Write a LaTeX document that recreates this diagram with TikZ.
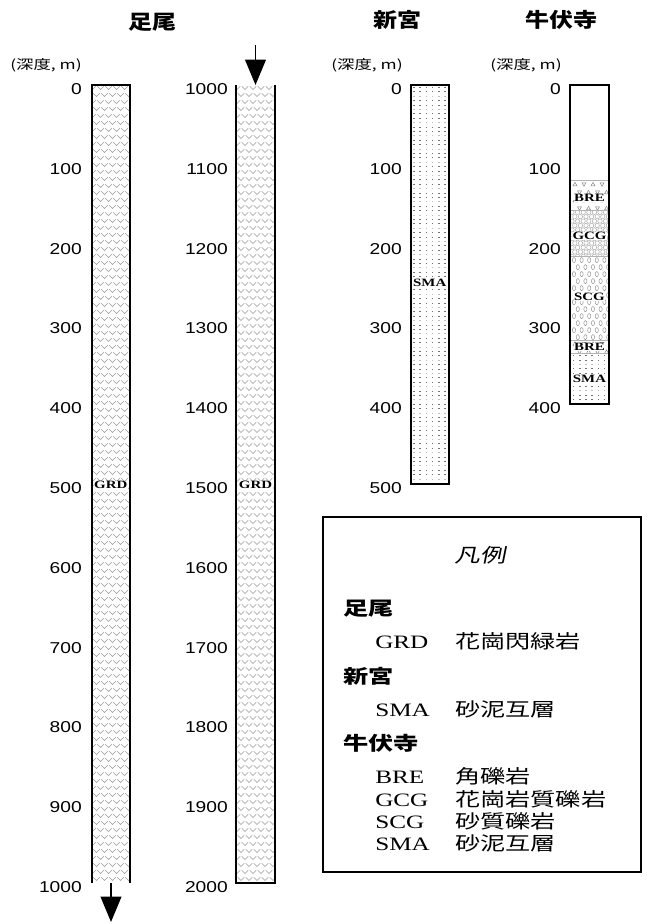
\documentclass[tikz,border=0pt]{standalone}
\usepackage{fontspec}
\usetikzlibrary{arrows.meta}
\newfontfamily\numfont{Liberation Sans}[FakeStretch=1.22]
\newfontfamily\jpfont{Noto Sans CJK JP}[FakeStretch=1.33]
\newfontfamily\jptitle{Noto Sans CJK JP}[FakeStretch=1.2]
\newfontfamily\jpslant{Noto Sans CJK JP}[FakeStretch=1.33,FakeSlant=0.2]
\newfontfamily\latinserif{Liberation Serif}[FakeStretch=1.33]

\tikzset{
  depthlbl/.style={font=\numfont\fontsize{11.8}{13}\selectfont,anchor=east,inner sep=0pt},
  sitetitle/.style={font=\jptitle\bfseries\fontsize{15}{17}\selectfont,inner sep=0pt},
  unitlbl/.style={font=\jpfont\fontsize{9.8}{11}\selectfont,inner sep=0pt},
  rocklbl/.style={font=\latinserif\bfseries\fontsize{8.4}{9}\selectfont,inner sep=0.5pt,fill=white},
  colline/.style={line width=1.5pt,line join=miter},
  bigarrow/.style={line width=1.3pt,-{Triangle[length=19pt,width=15.5pt]}},
  grdstroke/.style={draw=black!40,line width=0.4pt},
  brestroke/.style={draw=black!50,line width=0.35pt},
  gcgstroke/.style={draw=black!35,line width=0.35pt},
  scgstroke/.style={draw=black!45,line width=0.35pt},
  layerline/.style={draw=black!30,line width=0.5pt},
  legbox/.style={line width=1.5pt},
  legtitle/.style={font=\jpslant\fontsize{14.5}{16}\selectfont,inner sep=0pt},
  leghead/.style={font=\jpfont\bfseries\fontsize{14.2}{16}\selectfont,anchor=base west,inner sep=0pt},
  legcode/.style={font=\latinserif\fontsize{14.2}{16}\selectfont,anchor=base west,inner sep=0pt},
  legname/.style={font=\jpfont\fontsize{14.2}{16}\selectfont,anchor=base west,inner sep=0pt},
}

% granodiorite: rows of small v marks
\newcommand\grdfill[4]{%
  \begin{scope}
    \clip (#1,#3) rectangle (#2,#4);
    \pgfmathtruncatemacro\grdrows{(#4-#3)/7+1}
    \foreach \r in {0,...,\grdrows}{
      \pgfmathsetmacro\yy{#3+3+7*\r}
      \pgfmathsetmacro\xo{#1+1+4*mod(\r,2)}
      \foreach \c in {0,...,5}{
        \draw[grdstroke] ({\xo+8*\c-3.2},{\yy-1.6}) -- ({\xo+8*\c},{\yy+1.6}) -- ({\xo+8*\c+3.2},{\yy-1.6});
      }
    }
  \end{scope}}

% sandstone-mudstone alternation: rows of fine dots
\newcommand\smafill[4]{%
  \begin{scope}
    \clip (#1,#3) rectangle (#2,#4);
    \pgfmathtruncatemacro\smarows{(#4-#3)/4.4+1}
    \foreach \r in {0,...,\smarows}{
      \pgfmathsetmacro\yy{#3+2.5+4.4*\r}
      \pgfmathtruncatemacro\shade{mod(\r,3)==2 ? 25 : 55}
      \foreach \c in {0,...,6}{
        \fill[black!\shade] ({#1+3.5+6.2*\c-0.8},{\yy-0.5}) rectangle ++(1.6,1.0);
      }
    }
  \end{scope}}

% breccia: scattered small triangles
\newcommand\brefill[4]{%
  \begin{scope}
    \clip (#1,#3) rectangle (#2,#4);
    \pgfmathtruncatemacro\brerows{(#4-#3)/8+1}
    \foreach \r in {0,...,\brerows}{
      \pgfmathsetmacro\yy{#3+3.5+8*\r}
      \pgfmathsetmacro\xo{#1+5+4.5*mod(\r,2)}
      \foreach \c in {0,...,3}{
        \pgfmathsetmacro\s{mod(\r+\c,2)*2-1}
        \draw[brestroke] ({\xo+9*\c-2},{\yy-1.5*\s}) -- ({\xo+9*\c+2},{\yy-1.5*\s}) -- ({\xo+9*\c},{\yy+2*\s}) -- cycle;
      }
    }
  \end{scope}}

% granitic conglomerate: packed small circles
\newcommand\gcgfill[4]{%
  \begin{scope}
    \clip (#1,#3) rectangle (#2,#4);
    \pgfmathtruncatemacro\gcgrows{(#4-#3)/4.4+1}
    \foreach \r in {0,...,\gcgrows}{
      \pgfmathsetmacro\yy{#3+2+4.4*\r}
      \pgfmathsetmacro\xo{#1+2+2.8*mod(\r,2)}
      \foreach \c in {0,...,7}{
        \draw[gcgstroke] ({\xo+5.6*\c},\yy) circle[radius=2.2];
      }
    }
  \end{scope}}

% sandy conglomerate: small upright ovals
\newcommand\scgfill[4]{%
  \begin{scope}
    \clip (#1,#3) rectangle (#2,#4);
    \pgfmathtruncatemacro\scgrows{(#4-#3)/7+1}
    \foreach \r in {0,...,\scgrows}{
      \pgfmathsetmacro\yy{#3+3.5+7*\r}
      \pgfmathsetmacro\xo{#1+4+3.8*mod(\r,2)}
      \foreach \c in {0,...,4}{
        \draw[scgstroke] ({\xo+7.6*\c},\yy) ellipse[x radius=1.6,y radius=2.5];
      }
    }
  \end{scope}}

\begin{document}
\begin{tikzpicture}[x=0.75pt,y=-0.75pt]
  \useasboundingbox (0,0) rectangle (646,924);

  % ---------- site titles and depth headers ----------
  \node[sitetitle] (tAshio) at (152,22) {足尾};
  \node[sitetitle] (tNiimiya) at (397,20) {新宮};
  \node[sitetitle] (tUshi) at (561,20) {牛伏寺};
  \node[unitlbl] (uAshio) at (46,65) {(深度, m)};
  \node[unitlbl] (uNiimiya) at (367,65) {(深度, m)};
  \node[unitlbl] (uUshi) at (526,65) {(深度, m)};

  % ---------- Ashio, 0-1000 m ----------
  \grdfill{91.5}{130}{85}{883}
  \draw[colline] (91.5,883) -- (91.5,85) -- (130,85) -- (130,883);
  \node[rocklbl] (grdA) at (110.75,485) {GRD};
  \foreach \d in {0,100,...,1000}
    \node[depthlbl] (dA\d) at (82,{89+0.798*\d}) {\d};
  \coordinate (aEnd) at (111,883);
  \coordinate (aTip) at (111,922);
  \draw[bigarrow] (aEnd) -- (aTip);

  % ---------- Ashio, 1000-2000 m ----------
  \grdfill{236}{275}{85}{883}
  \draw[colline] (236,85) -- (236,883) -- (275,883) -- (275,85);
  \node[rocklbl] (grdB) at (255.5,485) {GRD};
  \foreach \d in {1000,1100,...,2000}
    \node[depthlbl] (dB\d) at (228,{89+0.798*(\d-1000)}) {\d};
  \coordinate (bStart) at (255.5,45);
  \coordinate (bTop) at (255.5,85);
  \draw[bigarrow] (bStart) -- (bTop);

  % ---------- Niimiya, 0-500 m ----------
  \smafill{410.5}{449}{85}{484}
  \draw[colline] (410.5,85) rectangle (449,484);
  \node[rocklbl] (smaN) at (429.75,283) {SMA};
  \foreach \d in {0,100,...,500}
    \node[depthlbl] (dN\d) at (402,{89+0.798*\d}) {\d};

  % ---------- Ushibushi, 0-400 m ----------
  \brefill{570}{609}{180.8}{210.3}
  \gcgfill{570}{609}{210.3}{256.6}
  \scgfill{570}{609}{256.6}{340.4}
  \brefill{570}{609}{340.4}{353.1}
  \smafill{570}{609}{353.1}{404.2}
  \foreach \yb in {180.8,210.3,256.6,340.4,353.1}
    \draw[layerline] (570,\yb) -- (609,\yb);
  \draw[colline] (570,85) rectangle (609,404.2);
  \node[rocklbl] (breU1) at (589.5,198) {BRE};
  \node[rocklbl] (gcgU) at (589.5,236) {GCG};
  \node[rocklbl] (scgU) at (589.5,297) {SCG};
  \node[rocklbl] (breU2) at (589.5,347) {BRE};
  \node[rocklbl] (smaU) at (589.5,379) {SMA};
  \foreach \d in {0,100,...,400}
    \node[depthlbl] (dU\d) at (561,{89+0.798*\d}) {\d};

  % ---------- legend ----------
  \draw[legbox] (323,517) rectangle (641,872);
  \node[legtitle] (lgTitle) at (480,555) {凡例};
  \node[leghead] (lgAshio) at (343,615) {足尾};
  \node[legcode] (lgGRD) at (375,648) {GRD};
  \node[legname] (lgGRDn) at (455,648) {花崗閃緑岩};
  \node[leghead] (lgNiimiya) at (343,683) {新宮};
  \node[legcode] (lgSMA1) at (375,716) {SMA};
  \node[legname] (lgSMA1n) at (455,716) {砂泥互層};
  \node[leghead] (lgUshi) at (343,750) {牛伏寺};
  \node[legcode] (lgBRE) at (375,783) {BRE};
  \node[legname] (lgBREn) at (455,783) {角礫岩};
  \node[legcode] (lgGCG) at (375,806) {GCG};
  \node[legname] (lgGCGn) at (455,806) {花崗岩質礫岩};
  \node[legcode] (lgSCG) at (375,828) {SCG};
  \node[legname] (lgSCGn) at (455,828) {砂質礫岩};
  \node[legcode] (lgSMA2) at (375,850) {SMA};
  \node[legname] (lgSMA2n) at (455,850) {砂泥互層};
\end{tikzpicture}
\end{document}
